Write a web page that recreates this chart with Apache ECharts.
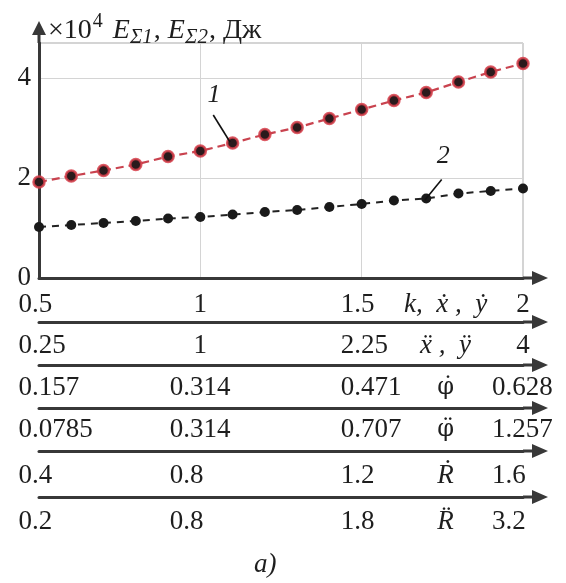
<!DOCTYPE html>
<html>
<head>
<meta charset="utf-8">
<script src="https://cdn.jsdelivr.net/npm/echarts@6/dist/echarts.min.js"></script>
<style>
html,body{margin:0;padding:0;background:#fff;}
#main{width:566px;height:583px;}
</style>
</head>
<body>
<div id="main"></div>
<script>
// ---- data ----
const kValues = [0.5, 0.6, 0.7, 0.8, 0.9, 1.0, 1.1, 1.2, 1.3, 1.4, 1.5, 1.6, 1.7, 1.8, 1.9, 2.0];
const energy1 = [1.92, 2.04, 2.15, 2.27, 2.43, 2.54, 2.70, 2.87, 3.01, 3.19, 3.37, 3.55, 3.71, 3.92, 4.12, 4.29];
const energy2 = [1.02, 1.06, 1.10, 1.14, 1.19, 1.22, 1.27, 1.32, 1.36, 1.42, 1.48, 1.55, 1.59, 1.69, 1.74, 1.79];

const kTicks = [0.5, 1, 1.5, 2];
const yTicks = [0, 2, 4];
const rowK     = ['0.5', '1', '1.5', '2'];
const rowXdd   = ['0.25', '1', '2.25', '4'];
const rowPhiD  = ['0.157', '0.314', '0.471', '0.628'];
const rowPhiDD = ['0.0785', '0.314', '0.707', '1.257'];
const rowRD    = ['0.4', '0.8', '1.2', '1.6'];
const rowRDD   = ['0.2', '0.8', '1.8', '3.2'];
const rowNames = ['k,  ẋ ,  ẏ', 'ẍ ,  ÿ', 'φ\u0307', 'φ\u0308', 'Ṙ', 'R\u0308'];
const rowLabels = [rowK, rowXdd, rowPhiD, rowPhiDD, rowRD, rowRDD];

// ---- layout / style ----
const SERIF = "'Liberation Serif', 'DejaVu Serif', serif";
const TXT = '#1e1e1e';
const AX = '#383838';
const FS = 27;
const namePos = 1.76;
const rowOffsets = [0, 44, 87, 130, 173, 219];
const rowMargins = [27, 23.5, 22.5, 22, 25, 25];
const rowNameStyle = ['ni', 'ni', 'ng', 'ng', 'ni', 'ni'];
const colStyle = ['a', 'b', 'd', 'e'];
const xArrow = 'path://M7,0L14,16L8.5,16L8.5,25L5.5,25L5.5,16L0,16Z';
const yArrow = 'path://M7,0L14,14L8.5,14L8.5,22L5.5,22L5.5,14L0,14Z';

const base = {fontFamily: SERIF, fontSize: FS, color: TXT};
const rich = {
  c: Object.assign({}, base),
  a: Object.assign({width: 41, align: 'left'}, base),
  b: Object.assign({width: 61, align: 'left'}, base),
  d: Object.assign({width: 42, align: 'left'}, base),
  e: Object.assign({width: 62, align: 'left'}, base),
  ni: Object.assign({}, base, {fontStyle: 'italic'}),
  ng: Object.assign({}, base, {fontFamily: "'DejaVu Serif', serif", fontSize: 24})
};

function makeFormatter(labels, name, nameStyle) {
  return function (v) {
    const i = kTicks.findIndex(t => Math.abs(t - v) < 1e-9);
    if (i >= 0) {
      const s = labels[i];
      if (s.length === 1) return '{c|' + s + '}';
      return '{' + colStyle[i] + '|' + s + '}';
    }
    return '{' + nameStyle + '|' + name + '}';
  };
}

const xAxes = rowLabels.map((labels, r) => ({
  type: 'value',
  gridIndex: 0,
  position: 'bottom',
  offset: rowOffsets[r],
  min: 0.5,
  max: 2,
  interval: 0.5,
  axisLine: {
    show: true,
    lineStyle: {color: AX, width: 3},
    symbol: ['none', xArrow],
    symbolSize: [14, 25],
    symbolOffset: [0, 12.5]
  },
  axisTick: {show: false},
  splitLine: {show: r === 0, lineStyle: {color: '#d4d4d4', width: 1}},
  axisLabel: {
    show: true,
    customValues: kTicks.concat([namePos]),
    margin: rowMargins[r],
    verticalAlign: 'middle',
    fontFamily: SERIF,
    fontSize: FS,
    color: TXT,
    formatter: makeFormatter(labels, rowNames[r], rowNameStyle[r]),
    rich: rich
  }
}));

const chart = echarts.init(document.getElementById('main'), null, {renderer: 'canvas'});
const titleRich = {
  m: {fontFamily: SERIF, fontSize: 28, color: TXT},
  i: {fontFamily: SERIF, fontSize: 28, fontStyle: 'italic', color: TXT},
  sup: {fontFamily: SERIF, fontSize: 20, color: TXT, padding: [0, 10, 18, 1]},
  sub: {fontFamily: SERIF, fontSize: 21, fontStyle: 'italic', color: TXT, padding: [13, 1, 0, 0]}
};

chart.setOption({
  animation: false,
  backgroundColor: '#fff',
  title: [
    {
      text: '{m|×10}{sup|4}{i|E}{sub|Σ1}{m|, }{i|E}{sub|Σ2}{m|, Дж}',
      left: 43, top: 7,
      textStyle: {rich: titleRich, fontFamily: SERIF, fontSize: 28, fontWeight: 'normal'}
    },
    {
      text: 'a)',
      left: 249, top: 546,
      textStyle: {fontFamily: SERIF, fontSize: 27, fontStyle: 'italic', fontWeight: 'normal', color: TXT}
    }
  ],
  grid: {
    left: 39, right: 43, top: 43, bottom: 305,
    show: true, borderColor: '#a8a8a8', borderWidth: 1,
    outerBoundsMode: 'none',
    containLabel: false
  },
  xAxis: xAxes,
  yAxis: {
    type: 'value',
    min: 0,
    max: 4.7,
    interval: 2,
    axisLine: {
      show: true,
      lineStyle: {color: AX, width: 3},
      symbol: ['none', yArrow],
      symbolSize: [14, 22],
      symbolOffset: [0, 11]
    },
    axisTick: {show: false},
    splitLine: {show: true, lineStyle: {color: '#d4d4d4', width: 1}},
    axisLabel: {
      margin: 8, fontFamily: SERIF, fontSize: FS, color: TXT,
      customValues: yTicks
    }
  },
  series: [
    {
      type: 'line',
      name: '1',
      data: kValues.map((k, i) => [k, energy1[i]]),
      symbol: 'circle',
      symbolSize: 11,
      itemStyle: {color: '#2a1a1c', borderColor: 'rgba(214,62,74,0.85)', borderWidth: 2.5},
      lineStyle: {color: '#c9434f', width: 2.2, type: [8, 5]},
      z: 3,
      markLine: {
        silent: true, symbol: 'none', animation: false,
        lineStyle: {color: '#111', width: 1.6, type: 'solid'},
        label: {show: false},
        data: [[{coord: [1.040, 3.26]}, {coord: [1.092, 2.72]}]]
      },
      markPoint: {
        silent: true, symbol: 'rect', symbolSize: 1,
        itemStyle: {color: 'rgba(0,0,0,0)'},
        label: {show: true, position: 'inside', formatter: '1', fontFamily: SERIF, fontStyle: 'italic', fontSize: 26, color: TXT},
        data: [{coord: [1.042, 3.66]}]
      }
    },
    {
      type: 'line',
      name: '2',
      data: kValues.map((k, i) => [k, energy2[i]]),
      symbol: 'circle',
      symbolSize: 10,
      itemStyle: {color: '#1a1a1a'},
      lineStyle: {color: '#222', width: 2, type: [7, 6]},
      z: 3,
      markLine: {
        silent: true, symbol: 'none', animation: false,
        lineStyle: {color: '#111', width: 1.6, type: 'solid'},
        label: {show: false},
        data: [[{coord: [1.748, 1.97]}, {coord: [1.696, 1.56]}]]
      },
      markPoint: {
        silent: true, symbol: 'rect', symbolSize: 1,
        itemStyle: {color: 'rgba(0,0,0,0)'},
        label: {show: true, position: 'inside', formatter: '2', fontFamily: SERIF, fontStyle: 'italic', fontSize: 26, color: TXT},
        data: [{coord: [1.753, 2.44]}]
      }
    }
  ]
});
</script>
</body>
</html>
